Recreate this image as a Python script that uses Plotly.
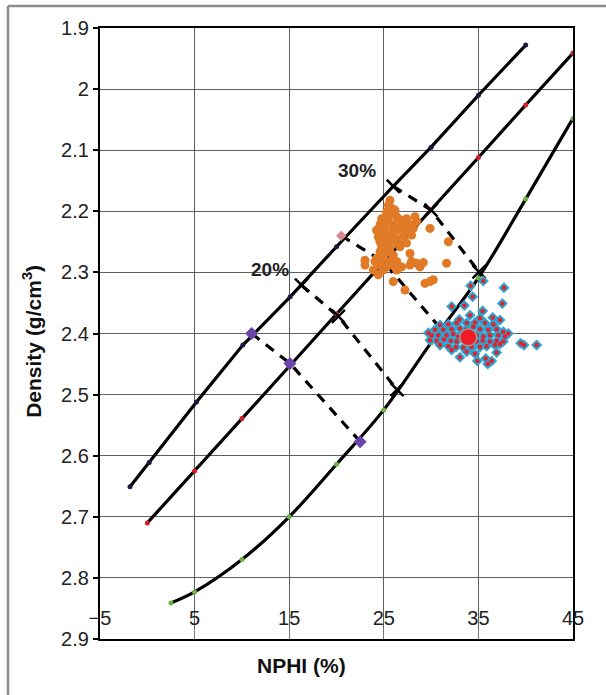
import plotly.graph_objects as go

# Lithology lines (NPHI in limestone units, bulk density g/cm3)
sand_nphi = [-1.83, 0.2, 5.2, 10.1, 15.1, 20.0, 26.0, 30.0, 35.0, 40.0]
sand_rho = [2.651, 2.611, 2.512, 2.419, 2.340, 2.258, 2.159, 2.095, 2.010, 1.928]
sand_dot_nphi = [-1.83, 0.2, 5.2, 10.1, 15.1, 20.0, 30.0, 35.0, 40.0]
sand_dot_rho = [2.651, 2.611, 2.512, 2.419, 2.340, 2.258, 2.095, 2.010, 1.928]

lime_nphi = [0, 5, 10, 15, 20, 25, 30, 35, 40, 45]
lime_rho = [2.710, 2.625, 2.539, 2.454, 2.368, 2.283, 2.197, 2.112, 2.026, 1.941]

dolo_nphi = [2.5, 5, 10, 15, 20, 25, 30, 35, 40, 45]
dolo_rho = [2.841, 2.823, 2.770, 2.700, 2.614, 2.525, 2.415, 2.309, 2.180, 2.048]

# Iso-porosity connectors (sandstone -> limestone -> dolomite)
iso30_nphi = [26.0, 30.0, 35.06]
iso30_rho = [2.159, 2.198, 2.299]
iso25_nphi = [20.5, 25.0, 30.9]
iso25_rho = [2.240, 2.283, 2.390]
iso20_nphi = [16.3, 20.2, 26.4]
iso20_rho = [2.321, 2.372, 2.492]
iso15_nphi = [11.03, 15.08, 22.5]
iso15_rho = [2.400, 2.449, 2.577]

# Zone A samples
zone_a_nphi = [25.65, 25.48, 25.83, 25.30, 26.00, 26.36, 24.77, 25.48, 26.71, 27.41,
               28.30, 28.47, 24.60, 25.12, 26.00, 26.89, 27.77, 24.24, 24.95, 25.83,
               26.53, 27.41, 28.12, 29.88, 24.42, 25.30, 26.18, 27.06, 27.94, 24.60,
               25.48, 26.36, 27.41, 24.77, 25.65, 26.71, 27.77, 25.12, 26.00, 24.24,
               24.95, 23.01, 24.07, 25.65, 26.36, 27.94, 28.47, 29.18, 23.01, 24.60,
               25.30, 26.18, 26.89, 27.77, 31.64, 23.89, 24.95, 26.36, 24.42, 28.82,
               26.00, 27.24, 29.35, 29.88, 30.23, 31.82, 24.60, 25.83, 26.89, 25.30,
               26.18, 27.06]
zone_a_rho = [2.182, 2.190, 2.195, 2.201, 2.203, 2.209, 2.212, 2.214, 2.214, 2.212,
              2.209, 2.217, 2.222, 2.225, 2.222, 2.222, 2.222, 2.231, 2.233, 2.233,
              2.231, 2.231, 2.228, 2.228, 2.242, 2.242, 2.244, 2.242, 2.239, 2.250,
              2.252, 2.252, 2.252, 2.258, 2.261, 2.258, 2.269, 2.269, 2.272, 2.277,
              2.277, 2.280, 2.282, 2.282, 2.282, 2.282, 2.285, 2.284, 2.288, 2.288,
              2.291, 2.291, 2.291, 2.288, 2.285, 2.296, 2.296, 2.296, 2.304, 2.291,
              2.315, 2.329, 2.318, 2.315, 2.312, 2.250, 2.266, 2.247, 2.244, 2.206,
              2.198, 2.228]

# Zone B samples
zone_b_nphi = [35.52, 37.70, 34.18, 34.39, 33.51, 37.53, 32.17, 35.45, 34.11, 32.98,
               36.51, 35.17, 37.28, 30.94, 31.82, 32.70, 33.76, 34.64, 35.70, 36.58,
               34.46, 29.71, 30.41, 31.29, 32.17, 33.05, 35.17, 36.05, 36.93, 37.63,
               38.16, 30.06, 30.76, 31.64, 32.35, 32.88, 34.82, 35.52, 36.22, 37.11,
               37.81, 29.88, 30.59, 31.36, 32.07, 32.70, 34.82, 35.45, 36.22, 36.93,
               37.63, 30.94, 31.82, 32.63, 33.41, 34.29, 35.17, 35.87, 36.75, 37.28,
               32.17, 33.76, 34.64, 36.93, 33.05, 34.89, 35.77, 35.98, 36.40, 39.47,
               39.82, 41.16, 33.69, 34.18]
zone_b_rho = [2.314, 2.325, 2.322, 2.340, 2.354, 2.351, 2.356, 2.363, 2.370, 2.377,
              2.374, 2.375, 2.378, 2.386, 2.385, 2.383, 2.383, 2.382, 2.383, 2.385,
              2.389, 2.399, 2.394, 2.394, 2.393, 2.392, 2.393, 2.394, 2.393, 2.397,
              2.400, 2.403, 2.403, 2.403, 2.401, 2.405, 2.403, 2.405, 2.403, 2.403,
              2.405, 2.411, 2.412, 2.410, 2.412, 2.413, 2.413, 2.412, 2.413, 2.412,
              2.413, 2.419, 2.421, 2.422, 2.423, 2.422, 2.422, 2.421, 2.419, 2.417,
              2.427, 2.430, 2.433, 2.431, 2.439, 2.445, 2.441, 2.450, 2.445, 2.416,
              2.419, 2.419, 2.394, 2.413]

zone_b_mean_nphi = [33.93]
zone_b_mean_rho = [2.406]

# Axis ticks
x_ticks = [-5, 5, 15, 25, 35, 45]
y_ticks = [1.9, 2.0, 2.1, 2.2, 2.3, 2.4, 2.5, 2.6, 2.7, 2.8, 2.9]
y_tick_text = ["1.9", "2", "2.1", "2.2", "2.3", "2.4", "2.5", "2.6", "2.7", "2.8", "2.9"]

# Porosity labels
por_label_text = ["30%", "20%"]
por_label_nphi = [22.2, 12.97]
por_label_rho = [2.133, 2.296]

fig = go.Figure()

line_style = dict(color="black", width=3.2)
dash_style = dict(color="black", width=3.2, dash="10px,8px")

fig.add_trace(go.Scatter(x=sand_nphi, y=sand_rho, mode="lines", line=line_style))
fig.add_trace(go.Scatter(x=lime_nphi, y=lime_rho, mode="lines", line=line_style))
fig.add_trace(go.Scatter(x=dolo_nphi, y=dolo_rho, mode="lines",
                         line=dict(color="black", width=3.2, shape="spline")))

for xs, ys in [(iso30_nphi, iso30_rho), (iso25_nphi, iso25_rho),
               (iso20_nphi, iso20_rho), (iso15_nphi, iso15_rho)]:
    fig.add_trace(go.Scatter(x=xs, y=ys, mode="lines", line=dash_style))

# Calibration dots along the lithology lines
fig.add_trace(go.Scatter(x=sand_dot_nphi, y=sand_dot_rho, mode="markers",
                         marker=dict(size=5, color="#1a1a40")))
fig.add_trace(go.Scatter(x=lime_nphi, y=lime_rho, mode="markers",
                         marker=dict(size=5, color="#d01f2a")))
fig.add_trace(go.Scatter(x=dolo_nphi, y=dolo_rho, mode="markers",
                         marker=dict(size=5, color="#6cb33f")))
fig.add_trace(go.Scatter(x=[iso25_nphi[0], iso25_nphi[2]], y=[iso25_rho[0], iso25_rho[2]],
                         mode="markers",
                         marker=dict(size=8, symbol="diamond", color="#d98a8e")))

# Iso-porosity crossings
for xs, ys in [(iso30_nphi, iso30_rho), (iso20_nphi, iso20_rho)]:
    fig.add_trace(go.Scatter(x=xs, y=ys, mode="markers",
                             marker=dict(size=13, symbol="x-thin",
                                         line=dict(color="black", width=2.5))))
fig.add_trace(go.Scatter(x=iso15_nphi, y=iso15_rho, mode="markers",
                         marker=dict(size=10, symbol="diamond", color="#6a44a8")))

# Sample clouds
fig.add_trace(go.Scatter(x=zone_a_nphi, y=zone_a_rho, mode="markers",
                         marker=dict(size=9, color="#e07a26")))
fig.add_trace(go.Scatter(x=zone_b_nphi, y=zone_b_rho, mode="markers",
                         marker=dict(size=8.5, symbol="diamond", color="#2fa3cf")))
fig.add_trace(go.Scatter(x=zone_b_nphi, y=zone_b_rho, mode="markers",
                         marker=dict(size=4.5, color="#e3202b")))
fig.add_trace(go.Scatter(x=zone_b_mean_nphi, y=zone_b_mean_rho, mode="markers",
                         marker=dict(size=17, color="#ee1c24",
                                     line=dict(color="#9a9a9a", width=1.5))))

for txt, xv, yv in zip(por_label_text, por_label_nphi, por_label_rho):
    fig.add_annotation(x=xv, y=yv, text="<b>" + txt + "</b>", showarrow=False,
                       font=dict(family="Liberation Sans", size=19, color="#222"))

title_font = dict(family="Liberation Sans", size=21, color="#111")
fig.add_annotation(xref="paper", yref="paper", x=0.425, y=-0.0426,
                   text="<b>NPHI (%)</b>", showarrow=False, font=title_font,
                   xanchor="center", yanchor="middle")
fig.add_annotation(xref="paper", yref="paper", x=-0.1438, y=0.488,
                   text="<b>Density (g/cm<sup>3</sup>)</b>", showarrow=False,
                   font=title_font, textangle=-90,
                   xanchor="center", yanchor="middle")

# Frame around the figure panel
fig.add_shape(type="line", xref="paper", yref="paper", x0=-0.1945, x1=1.2,
              y0=1.036, y1=1.036, line=dict(color="#8c8c8c", width=2.5))
fig.add_shape(type="line", xref="paper", yref="paper", x0=-0.1945, x1=-0.1945,
              y0=-0.2, y1=1.036, line=dict(color="#8c8c8c", width=2.5))
# Backing strip behind the x tick labels
fig.add_shape(type="rect", xref="paper", yref="y", x0=0.005, x1=0.995, y0=2.848, y1=2.880,
              fillcolor="white", line=dict(width=0), layer="between")

tick_font = dict(family="Liberation Sans", size=20, color="#222")

fig.update_xaxes(range=[-5, 45], tickvals=x_ticks,
                 ticks="inside", ticklen=11, tickcolor="#7a7a7a", tickwidth=1.3,
                 ticklabelposition="inside", ticklabeloverflow="allow",
                 showgrid=True, gridcolor="#5e5e5e", gridwidth=1.3,
                 showline=True, linecolor="black", linewidth=2.2, mirror=True,
                 zeroline=False, tickfont=tick_font)
fig.update_yaxes(range=[2.9, 1.9], tickvals=y_ticks, ticktext=y_tick_text,
                 ticks="outside", ticklen=5, tickcolor="black", tickwidth=1.5,
                 showgrid=True, gridcolor="#5e5e5e", gridwidth=1.3,
                 showline=True, linecolor="black", linewidth=2.2, mirror=True,
                 zeroline=False, tickfont=tick_font)

fig.update_layout(width=606, height=695, showlegend=False,
                  margin=dict(l=100, r=33, t=28, b=56),
                  plot_bgcolor="white", paper_bgcolor="white")

fig.write_html("out.html")
